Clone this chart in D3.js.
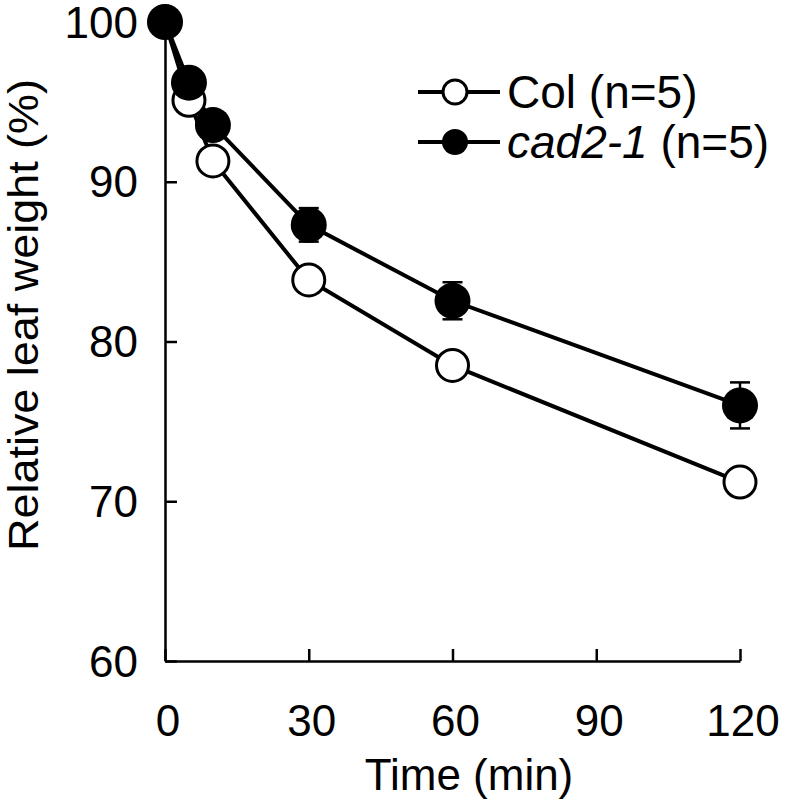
<!DOCTYPE html>
<html>
<head>
<meta charset="utf-8">
<script src="https://cdn.jsdelivr.net/npm/d3@7/dist/d3.min.js"></script>
<style>
  html, body { margin: 0; padding: 0; background: #fff; }
  svg { display: block; }
  text { font-family: "Liberation Sans", Arial, sans-serif; fill: #000; }
</style>
</head>
<body>
<svg id="chart" width="787" height="804"></svg>
<script>
// ---- data ----
const times = [0, 5, 10, 30, 60, 120];
const colValues = [100, 95.1, 91.3, 83.85, 78.5, 71.2];
const colErrors = [0, 0.3, 0.4, 0.5, 0.5, 0.6];
const cadValues = [100, 96.2, 93.55, 87.3, 82.55, 76.0];
const cadErrors = [0, 0.4, 0.5, 1.05, 1.16, 1.44];
const xTicks = [0, 30, 60, 90, 120];
const yTicks = [60, 70, 80, 90, 100];
const seriesNames = ["Col", "cad2-1"];

const svg = d3.select("#chart");
const x = d3.scaleLinear().domain([0, 120]).range([165, 740]);
const y = d3.scaleLinear().domain([60, 100]).range([661, 22]);

const FS = 44;

// axes
const yAxis = svg.append("g").attr("transform", `translate(${x(0)},0)`)
  .call(d3.axisRight(y).tickValues(yTicks).tickSize(12).tickSizeOuter(0).tickFormat(""));
const xAxis = svg.append("g").attr("transform", `translate(0,${y(60)})`)
  .call(d3.axisTop(x).tickValues(xTicks).tickSize(12).tickSizeOuter(0).tickFormat(""));
[yAxis, xAxis].forEach(g => {
  g.select(".domain").attr("stroke", "#000").attr("stroke-width", 2.5);
  g.selectAll(".tick line").attr("stroke", "#000").attr("stroke-width", 2.5);
});

// tick labels
svg.append("g").selectAll("text").data(yTicks).join("text")
  .attr("x", 138).attr("y", d => y(d)).attr("dy", "0.355em")
  .attr("text-anchor", "end").attr("font-size", FS).text(d => d);
svg.append("g").selectAll("text").data(xTicks).join("text")
  .attr("x", d => x(d) + 3).attr("y", 736)
  .attr("text-anchor", "middle").attr("font-size", FS).text(d => d);

// axis titles
svg.append("text").attr("x", 469).attr("y", 790).attr("text-anchor", "middle")
  .attr("font-size", FS).text("Time (min)");
svg.append("text").attr("transform", "translate(38,315) rotate(-90)")
  .attr("text-anchor", "middle").attr("font-size", 42)
  .attr("textLength", 472).attr("lengthAdjust", "spacingAndGlyphs")
  .text("Relative leaf weight (%)");

// series
const colData = times.map((t, i) => ({ t, v: colValues[i], e: colErrors[i] }));
const cadData = times.map((t, i) => ({ t, v: cadValues[i], e: cadErrors[i] }));
const line = d3.line().x(d => x(d.t)).y(d => y(d.v));

svg.append("path").datum(colData).attr("d", line)
  .attr("fill", "none").attr("stroke", "#000").attr("stroke-width", 4);
svg.append("path").datum(cadData).attr("d", line)
  .attr("fill", "none").attr("stroke", "#000").attr("stroke-width", 4);

function errorBars(data) {
  const g = svg.append("g").attr("stroke", "#000").attr("stroke-width", 2.5);
  data.filter(d => d.e > 0).forEach(d => {
    const cx = x(d.t);
    g.append("line").attr("x1", cx).attr("x2", cx).attr("y1", y(d.v + d.e)).attr("y2", y(d.v - d.e));
    g.append("line").attr("x1", cx - 10).attr("x2", cx + 10).attr("y1", y(d.v + d.e)).attr("y2", y(d.v + d.e));
    g.append("line").attr("x1", cx - 10).attr("x2", cx + 10).attr("y1", y(d.v - d.e)).attr("y2", y(d.v - d.e));
  });
}

errorBars(colData);
svg.append("g").selectAll("circle").data(colData).join("circle")
  .attr("cx", d => x(d.t)).attr("cy", d => y(d.v)).attr("r", 16)
  .attr("fill", "#fff").attr("stroke", "#000").attr("stroke-width", 3);
errorBars(cadData);
svg.append("g").selectAll("circle").data(cadData).join("circle")
  .attr("cx", d => x(d.t)).attr("cy", d => y(d.v)).attr("r", 18)
  .attr("fill", "#000");

// legend
const legend = svg.append("g");
const rows = [{ name: seriesNames[0], y: 92, filled: false }, { name: seriesNames[1], y: 142, filled: true }];
rows.forEach(r => {
  legend.append("line").attr("x1", 418).attr("x2", 500).attr("y1", r.y).attr("y2", r.y)
    .attr("stroke", "#000").attr("stroke-width", 4);
  legend.append("circle").attr("cx", 455).attr("cy", r.y).attr("r", r.filled ? 13 : 12)
    .attr("fill", r.filled ? "#000" : "#fff").attr("stroke", "#000").attr("stroke-width", r.filled ? 0 : 3);
  const t = legend.append("text").attr("x", 507).attr("y", r.y + 16).attr("font-size", 46);
  t.append("tspan").attr("font-style", r.filled ? "italic" : "normal").text(r.name);
  t.append("tspan").text(" (n=5)");
});
</script>
</body>
</html>
